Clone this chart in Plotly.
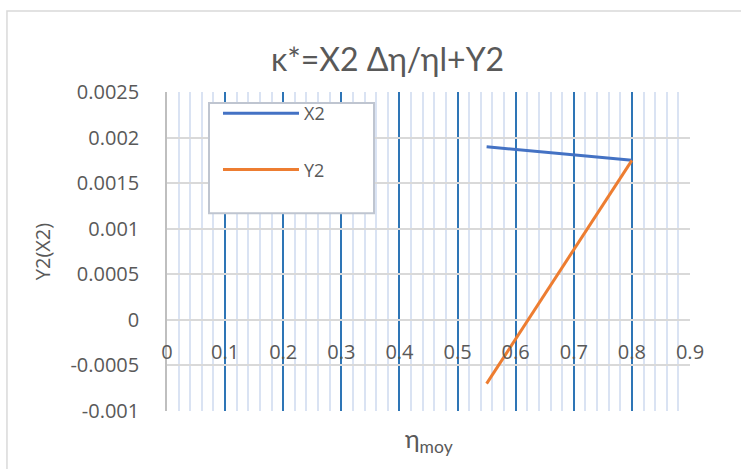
import plotly.graph_objects as go

# Data series
eta_moy = [0.55, 0.8]
x2_vals = [0.0019, 0.00175]
y2_vals = [-0.0007, 0.00175]

x_ticks = [0, 0.1, 0.2, 0.3, 0.4, 0.5, 0.6, 0.7, 0.8, 0.9]
y_ticks = [-0.001, -0.0005, 0, 0.0005, 0.001, 0.0015, 0.002, 0.0025]
y_tick_text = ["-0.001", "-0.0005", "0", "0.0005", "0.001", "0.0015", "0.002", "0.0025"]

FONT = "Lato, 'Noto Sans', sans-serif"
TICK_FONT = "'Open Sans', 'Noto Sans', sans-serif"
TXT = "#595959"

fig = go.Figure()
fig.add_trace(go.Scatter(x=eta_moy, y=x2_vals, mode="lines", name="X2",
                         line=dict(color="#4472c4", width=3), legendgroup="a"))
fig.add_trace(go.Scatter(x=eta_moy, y=y2_vals, mode="lines", name="Y2",
                         line=dict(color="#ed7d31", width=3), legendgroup="b"))

fig.update_layout(
    width=741, height=469,
    margin=dict(l=167, r=51, t=92, b=58),
    paper_bgcolor="white", plot_bgcolor="white",
    font=dict(family=FONT, color=TXT, size=18),
    title=dict(text="κ*=X2 Δη/ηl+Y2", x=0.523, xanchor="center", xref="container",
               y=0.872, yanchor="middle", font=dict(size=32, color=TXT, family=FONT)),
    showlegend=True,
    legend=dict(x=0.0975, y=0.9906, xanchor="left", yanchor="top",
                bgcolor="rgba(0,0,0,0)", borderwidth=0,
                font=dict(size=18, color=TXT, family=TICK_FONT), tracegroupgap=30,
                entrywidth=150, entrywidthmode="pixels", itemwidth=76),
)

fig.update_xaxes(
    range=[0, 0.9], tickvals=x_ticks, ticktext=[str(v) for v in x_ticks],
    anchor="free", position=1/3.5, ticks="", ticklabelstandoff=18,
    showgrid=True, gridcolor="#2e75b6", gridwidth=1.8,
    minor=dict(dtick=0.02, showgrid=True, gridcolor="#dae3f3", gridwidth=2),
    showline=False, zeroline=False,
    tickfont=dict(size=20, color=TXT, family=TICK_FONT),
)
fig.update_yaxes(
    range=[-0.001, 0.0025], tickvals=y_ticks, ticktext=y_tick_text,
    ticks="", ticklabelstandoff=22,
    showgrid=True, gridcolor="#d9d9d9", gridwidth=1.5,
    zeroline=True, zerolinecolor="#d9d9d9", zerolinewidth=1.5,
    showline=True, linecolor="#bfbfbf", linewidth=1.5,
    tickfont=dict(size=20, color=TXT, family=TICK_FONT),
    title=dict(text="Y2(X2)", standoff=14, font=dict(size=20, color=TXT, family=TICK_FONT)),
)

# x-axis title below the plot area
fig.add_annotation(text="η<sub>moy</sub>", xref="paper", yref="paper",
                   x=0.5, y=-0.09, xanchor="center", yanchor="middle",
                   showarrow=False, font=dict(size=25, color=TXT, family=FONT))

# legend box
fig.add_shape(type="rect", xref="paper", yref="paper",
              x0=0.0803, x1=0.3958, y0=0.620, y1=0.9655,
              line=dict(color="#bfc5d0", width=2), fillcolor="white", layer="above")

# chart frame
fig.add_shape(type="rect", xref="paper", yref="paper",
              x0=-0.306, x1=1.3, y0=-0.4, y1=1.254,
              line=dict(color="#d9d9d9", width=1.5), fillcolor="rgba(0,0,0,0)", layer="below")

fig.write_html("out.html")
